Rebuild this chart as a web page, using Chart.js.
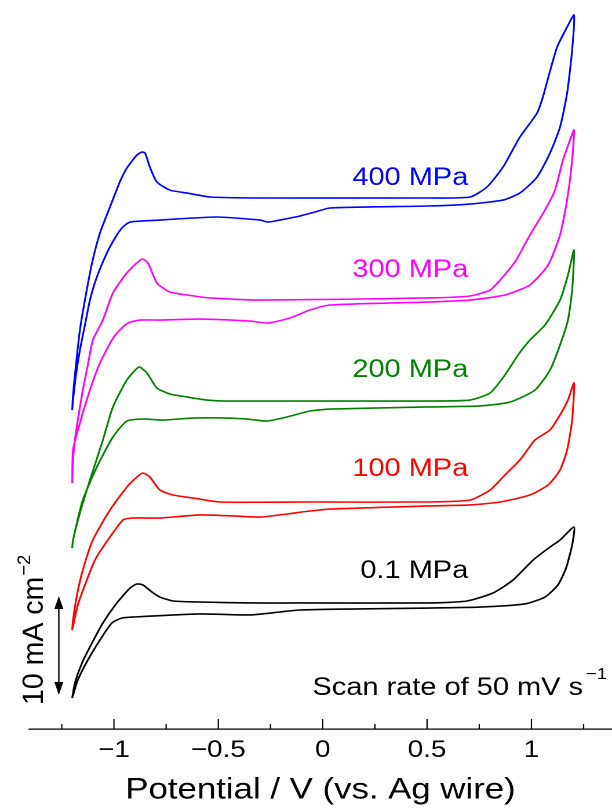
<!DOCTYPE html>
<html lang="en">
<head>
<meta charset="UTF-8" />
<title>CV at high pressure</title>
<script src="https://cdn.jsdelivr.net/npm/chart.js"></script>
<style>
  html, body { margin: 0; padding: 0; background: #fff; overflow: hidden; }
</style>
</head>
<body>
<!-- the figure is drawn on a narrower canvas and stretched sideways, like the original -->
<canvas id="cv" width="528" height="809" style="display:block;width:612px;height:809px"></canvas>
<script>
// series labels (pressure)
const pressures = ['0.1 MPa', '100 MPa', '200 MPa', '300 MPa', '400 MPa'];

// potential (V vs. Ag wire) and offset current density (mA cm-2), one closed loop each:
// forward scan from -1.2 V to 1.2 V, then back to -1.2 V
const E_01 = [-1.20,-1.187,-1.153,-1.105,-1.053,-0.986,-0.923,-0.890,-0.861,-0.818,-0.780,-0.717,-0.588,-0.348,-0.109,0.505,0.691,0.816,0.912,1.008,1.089,1.137,1.204,
  1.195,1.166,1.127,1.065,0.969,0.754,0.505,0.131,-0.109,-0.205,-0.348,-0.588,-0.909,-0.962,-1.010,-1.067,-1.125,-1.173,-1.20];
const J_01 = [3.13,4.65,6.67,8.69,10.71,12.73,14.24,14.65,14.55,13.84,13.33,12.93,12.83,12.73,12.73,12.73,12.93,13.74,15.05,17.07,18.38,19.09,20.40,
  18.59,16.26,14.55,13.33,12.63,12.32,12.22,12.12,12.02,11.82,11.52,11.62,11.31,11.21,10.71,8.99,6.97,4.95,3.13];

const E_100 = [-1.20,-1.196,-1.177,-1.149,-1.101,-1.019,-0.938,-0.890,-0.861,-0.828,-0.780,-0.717,-0.621,-0.492,-0.061,0.505,0.706,0.802,0.873,0.945,1.017,1.089,1.137,1.175,1.204,
  1.195,1.171,1.137,1.080,0.993,0.850,0.706,0.505,0.035,-0.061,-0.171,-0.300,-0.430,-0.588,-0.780,-0.914,-0.957,-1.029,-1.091,-1.139,-1.173,-1.20];
const J_100 = [10.0,11.01,13.54,16.06,19.09,22.12,24.44,25.45,25.86,25.45,24.14,23.64,23.33,22.93,22.93,22.93,23.13,24.14,25.66,27.17,29.19,30.20,31.72,33.23,34.95,
  31.21,28.18,26.16,24.65,23.64,22.93,22.63,22.53,22.22,22.02,21.72,21.41,21.52,21.62,21.31,21.31,21.11,19.09,17.07,14.55,12.53,10.0];

const E_200 = [-1.20,-1.196,-1.163,-1.115,-1.053,-1.005,-0.938,-0.880,-0.842,-0.794,-0.732,-0.650,-0.554,-0.459,-0.061,0.505,0.706,0.802,0.873,0.936,0.993,1.065,1.137,1.175,1.204,
  1.195,1.175,1.137,1.089,1.017,0.898,0.754,0.505,0.035,-0.061,-0.171,-0.267,-0.363,-0.459,-0.621,-0.765,-0.861,-0.938,-1.005,-1.082,-1.149,-1.196,-1.20];
const J_200 = [18.28,19.09,21.82,25.15,29.19,32.53,35.25,36.57,35.96,34.44,33.84,33.54,33.23,33.13,33.13,33.13,33.23,33.94,35.76,37.78,39.29,40.81,43.33,45.86,48.38,
  44.34,41.31,38.79,36.26,34.24,33.03,32.63,32.53,32.32,32.12,31.52,31.11,31.31,31.41,31.41,31.21,31.31,31.11,29.49,26.46,23.13,19.09,18.28];

const E_300 = [-1.20,-1.196,-1.187,-1.173,-1.149,-1.125,-1.101,-1.053,-1.005,-0.938,-0.866,-0.837,-0.794,-0.732,-0.650,-0.540,-0.300,0.505,0.706,0.802,0.850,0.921,0.993,1.065,1.113,1.151,1.185,1.204,
  1.195,1.171,1.137,1.080,0.993,0.873,0.706,0.505,0.035,-0.061,-0.157,-0.262,-0.348,-0.588,-0.780,-0.875,-0.933,-0.981,-1.010,-1.067,-1.115,-1.163,-1.196,-1.20];
const J_300 = [24.85,27.17,29.19,31.21,34.24,36.77,39.29,41.31,44.04,46.06,47.47,47.07,45.05,44.14,43.84,43.54,43.33,43.54,43.74,44.34,45.35,47.17,49.90,52.42,54.44,57.47,59.49,60.51,
  57.47,53.43,49.90,46.87,44.85,43.84,43.33,43.13,42.83,42.32,41.52,41.01,41.21,41.41,41.31,41.31,41.01,40.10,39.29,36.97,34.24,30.91,28.18,24.85];

const E_400 = [-1.20,-1.196,-1.182,-1.163,-1.139,-1.105,-1.067,-1.019,-0.972,-0.938,-0.890,-0.866,-0.851,-0.828,-0.794,-0.732,-0.650,-0.540,-0.300,0.505,0.706,0.787,0.864,0.945,1.027,1.055,1.080,1.123,1.171,1.204,
  1.195,1.171,1.137,1.089,1.027,0.945,0.864,0.706,0.505,0.035,-0.037,-0.109,-0.205,-0.262,-0.300,-0.506,-0.698,-0.780,-0.923,-0.957,-0.986,-1.034,-1.082,-1.115,-1.139,-1.163,-1.182,-1.196,-1.20];
const J_400 = [32.22,33.74,36.77,40.30,43.33,47.07,50.10,52.73,55.25,56.67,57.98,58.28,58.18,56.77,55.25,54.44,54.14,53.74,53.64,53.64,53.74,54.75,56.77,59.80,62.22,63.84,65.76,68.89,70.91,72.12,
  68.59,64.24,60.81,58.18,55.76,54.14,53.43,53.03,52.83,52.63,52.22,51.82,51.41,51.21,51.41,51.72,51.52,51.41,51.21,50.71,49.90,48.08,45.66,43.33,40.81,38.28,35.76,33.23,32.22];

// x axis ticks every 0.25 V, labels on every 0.5 V
const tickStep = 0.25;
const xMin = -1.407, xMax = 1.386;
const yMin = 0, yMax = 73.64;

// scale bar: 10 mA cm-2
const barLength = 10;
const barBase = 3.43;
const barPotential = -1.264;

const colors = ['#000000', '#ff0000', '#008000', '#ff00ff', '#0000ff'];
const labelY = [578, 476, 377, 277, 185];   // baselines, canvas px
const FONT = '"Liberation Sans", Arial, Helvetica, sans-serif';

const curves = [[E_01, J_01], [E_100, J_100], [E_200, J_200], [E_300, J_300], [E_400, J_400]];

const datasets = curves.map(([E, J], i) => ({
  label: pressures[i],
  data: E.map((e, k) => ({ x: e, y: J[k] })),
  borderColor: colors[i],
  borderWidth: 1.6,
  pointRadius: 0,
  showLine: true,
  fill: false,
  tension: 0.2
}));

function fmtTick(v) {
  const r = Math.round(v / tickStep) * tickStep;
  if (Math.abs(r * 2 - Math.round(r * 2)) > 1e-6) return '';
  if (r === 0) return '0';
  return (r < 0 ? '\u2212' : '') + Math.abs(r);
}

// inward ticks, scale bar and the text notes
const extras = {
  id: 'extras',
  afterDraw(chart) {
    const ctx = chart.ctx;
    const xs = chart.scales.x, ys = chart.scales.y;
    const bottom = chart.chartArea.bottom;
    ctx.save();
    ctx.strokeStyle = '#000';
    ctx.fillStyle = '#000';

    ctx.lineWidth = 1.1;
    xs.ticks.forEach(t => {
      const px = xs.getPixelForValue(t.value);
      const major = Math.abs(t.value * 2 - Math.round(t.value * 2)) < 1e-6;
      ctx.beginPath();
      ctx.moveTo(px, bottom);
      ctx.lineTo(px, bottom - (major ? 10 : 5));
      ctx.stroke();
    });

    // scale bar with two arrow heads
    const bx = xs.getPixelForValue(barPotential);
    const yTop = ys.getPixelForValue(barBase + barLength);
    const yBot = ys.getPixelForValue(barBase);
    ctx.lineWidth = 1.2;
    ctx.beginPath();
    ctx.moveTo(bx, yTop + 8);
    ctx.lineTo(bx, yBot - 8);
    ctx.stroke();
    ctx.beginPath();
    ctx.moveTo(bx, yTop); ctx.lineTo(bx - 3.9, yTop + 13); ctx.lineTo(bx + 3.9, yTop + 13);
    ctx.closePath(); ctx.fill();
    ctx.beginPath();
    ctx.moveTo(bx, yBot); ctx.lineTo(bx - 3.9, yBot - 13); ctx.lineTo(bx + 3.9, yBot - 13);
    ctx.closePath(); ctx.fill();

    // pressure labels
    ctx.font = '25px ' + FONT;
    ctx.textAlign = 'right';
    ctx.textBaseline = 'alphabetic';
    pressures.forEach((p, i) => {
      ctx.fillStyle = colors[i];
      ctx.fillText(p, 404, labelY[i]);
    });

    // scan rate note
    ctx.fillStyle = '#000';
    ctx.fillText('Scan rate of 50 mV s', 503, 695);
    ctx.font = '16px ' + FONT;
    ctx.textAlign = 'left';
    ctx.fillText('\u22121', 505.5, 679);

    // scale bar label, rotated
    ctx.save();
    ctx.translate(37, 705);
    ctx.rotate(-Math.PI / 2);
    ctx.scale(1.14, 1);
    ctx.font = '25px ' + FONT;
    ctx.textAlign = 'left';
    ctx.fillText('10 mA cm', 0, 0);
    const w = ctx.measureText('10 mA cm').width;
    ctx.font = '16px ' + FONT;
    ctx.fillText('\u22122', w + 1, -11);
    ctx.restore();

    ctx.restore();
  }
};

new Chart(document.getElementById('cv'), {
  type: 'scatter',
  data: { datasets },
  options: {
    responsive: false,
    devicePixelRatio: 2,
    animation: false,
    layout: { padding: { left: 25, right: 0, top: 0, bottom: 0 } },
    plugins: { legend: { display: false }, tooltip: { enabled: false } },
    scales: {
      x: {
        type: 'linear',
        min: xMin,
        max: xMax,
        grid: { drawOnChartArea: false, drawTicks: false },
        border: { color: '#000', width: 1.3 },
        ticks: {
          stepSize: tickStep,
          includeBounds: false,
          autoSkip: false,
          maxRotation: 0,
          padding: 7.1,
          color: '#000',
          font: { size: 24, family: FONT },
          callback: fmtTick
        },
        title: {
          display: true,
          text: 'Potential / V (vs. Ag wire)',
          color: '#000',
          font: { size: 30, family: FONT },
          padding: { top: 0, bottom: 1 }
        }
      },
      y: { display: false, min: yMin, max: yMax }
    }
  },
  plugins: [extras]
});
</script>
</body>
</html>
